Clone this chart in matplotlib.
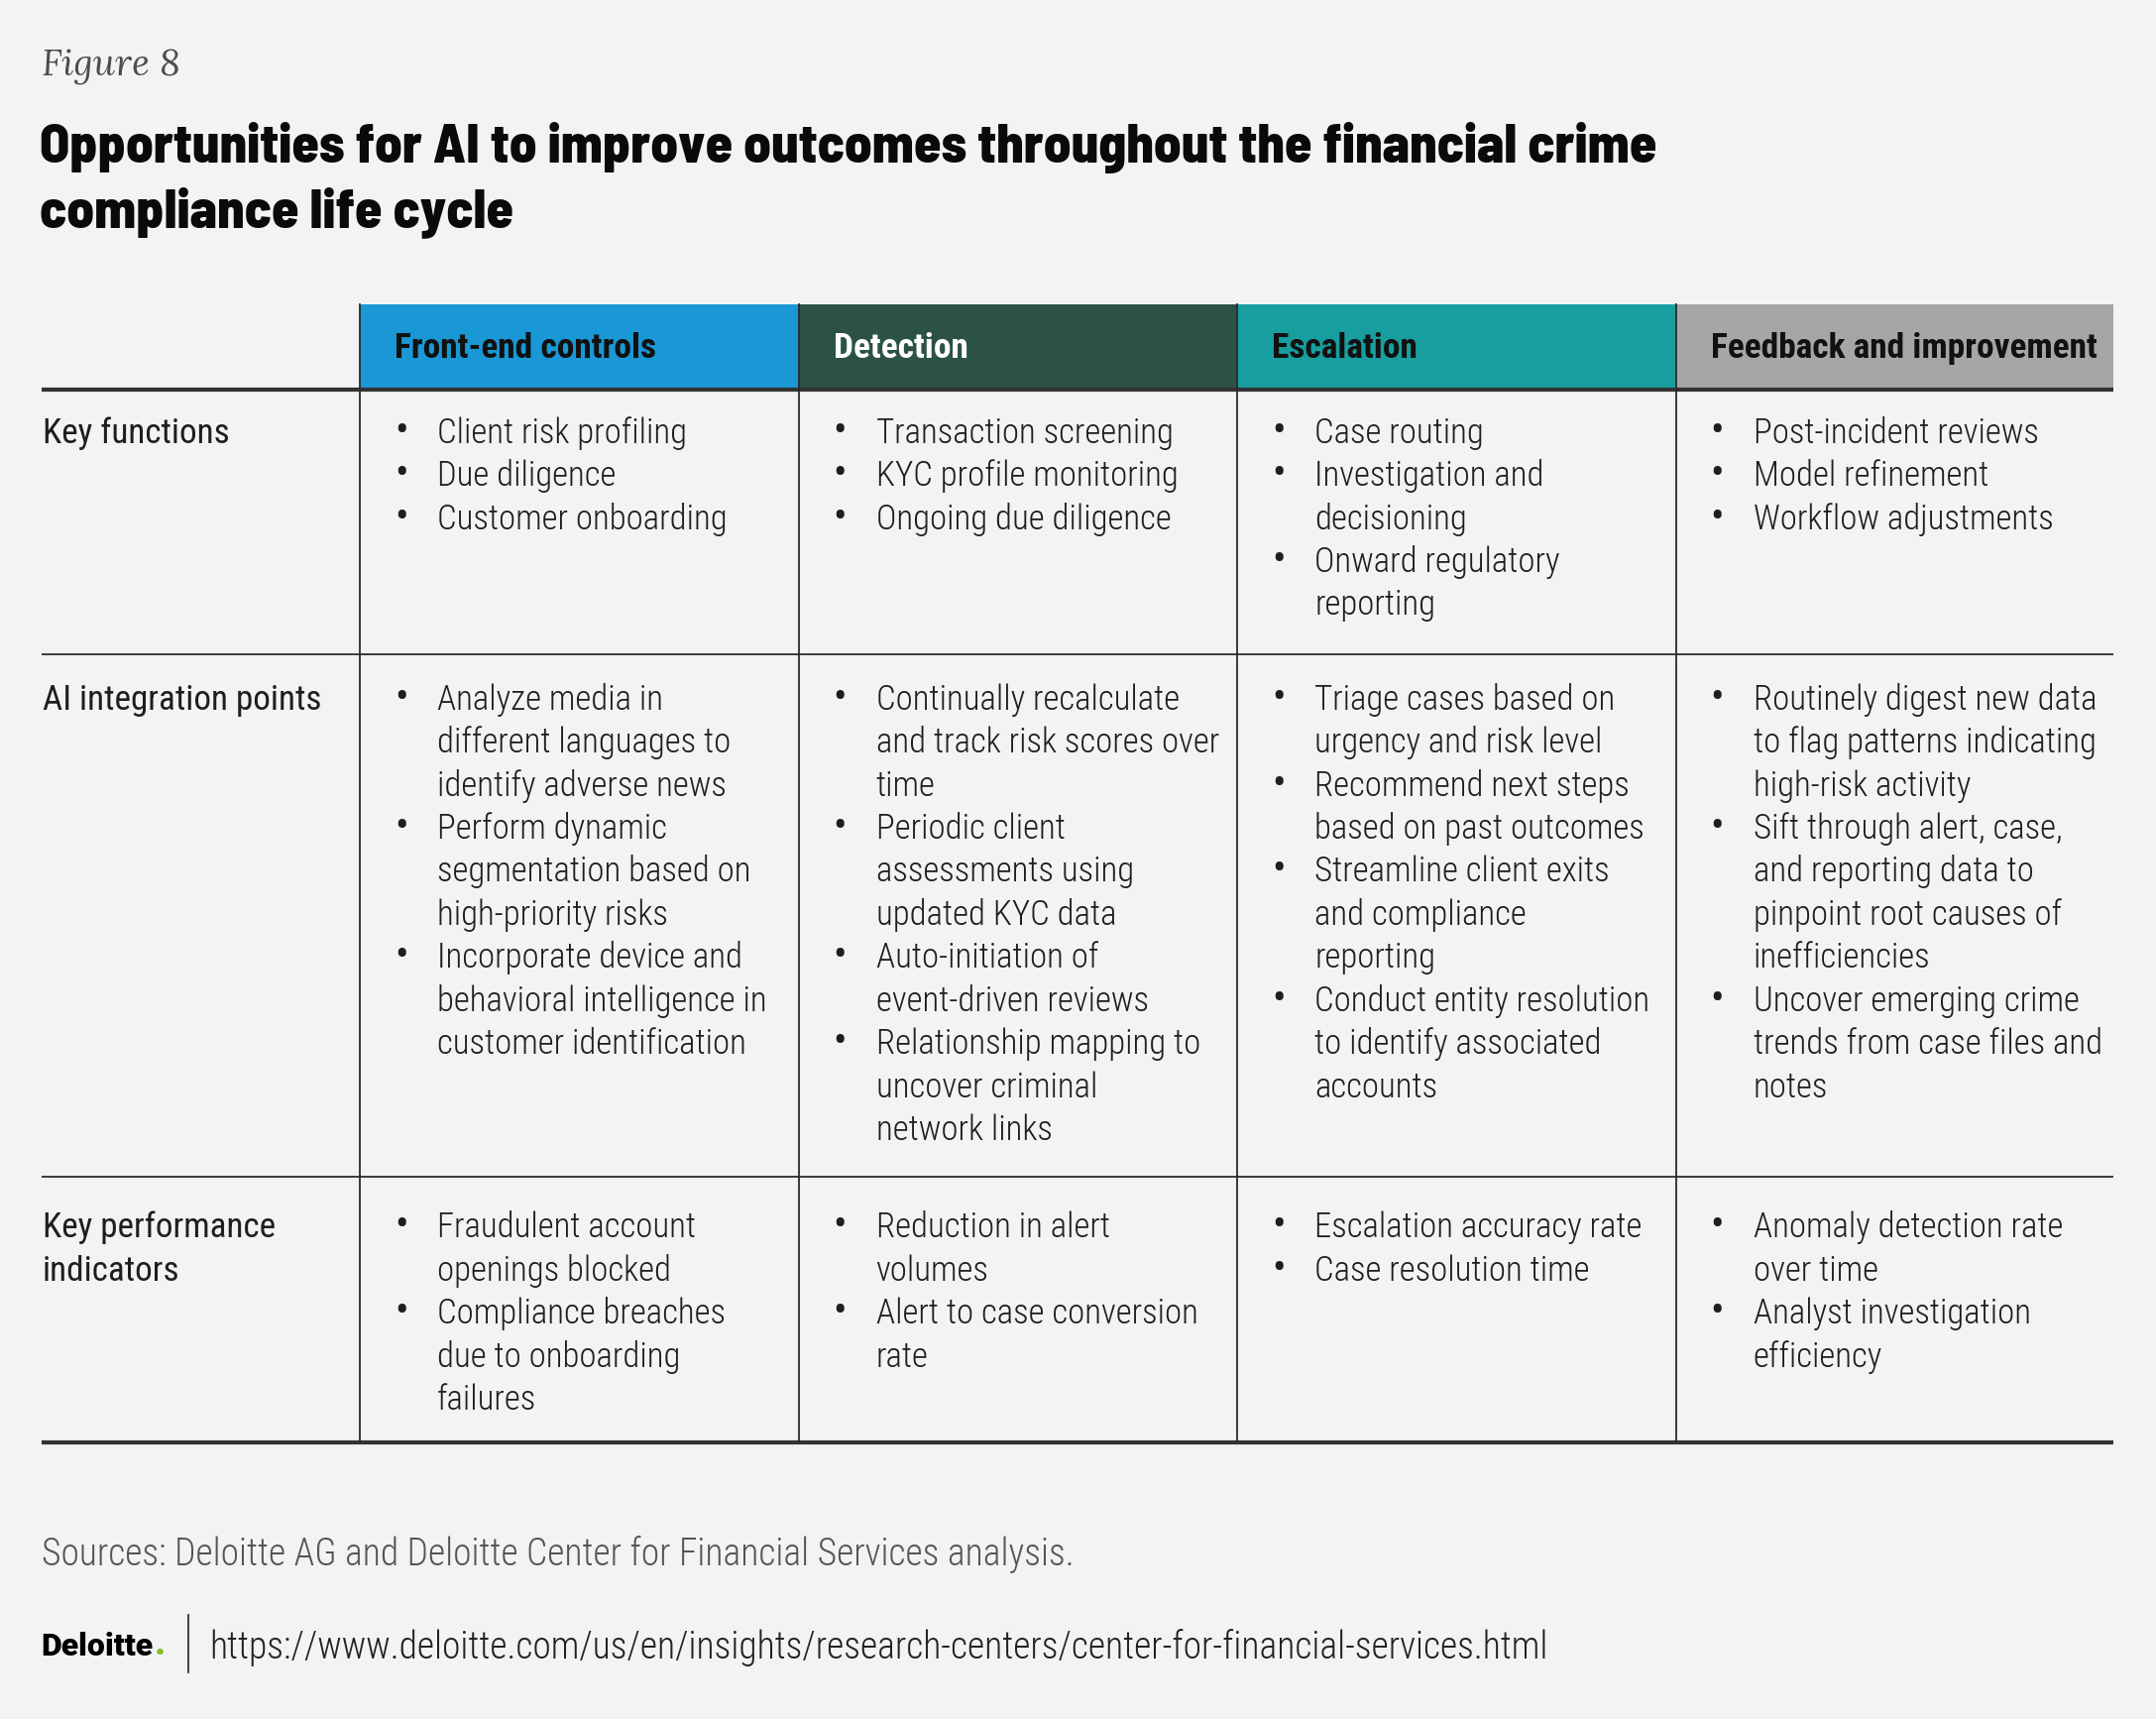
import matplotlib
matplotlib.use("Agg")
import matplotlib.pyplot as plt
from matplotlib.patches import Rectangle

# ---- content -------------------------------------------------------------
fig_label = "Figure 8"
title_lines = [
    "Opportunities for AI to improve outcomes throughout the financial crime",
    "compliance life cycle",
]
stages = ["Front-end controls", "Detection", "Escalation", "Feedback and improvement"]
stage_colors = ["#1a97d5", "#2c5247", "#189e9e", "#a6a6a6"]
stage_text_colors = ["#111111", "#ffffff", "#111111", "#111111"]

row_labels = ["Key functions", "AI integration points", "Key performance\nindicators"]

key_functions = [
    ["Client risk profiling", "Due diligence", "Customer onboarding"],
    ["Transaction screening", "KYC profile monitoring", "Ongoing due diligence"],
    ["Case routing", "Investigation and\ndecisioning", "Onward regulatory\nreporting"],
    ["Post-incident reviews", "Model refinement", "Workflow adjustments"],
]
ai_points = [
    ["Analyze media in\ndifferent languages to\nidentify adverse news",
     "Perform dynamic\nsegmentation based on\nhigh-priority risks",
     "Incorporate device and\nbehavioral intelligence in\ncustomer identification"],
    ["Continually recalculate\nand track risk scores over\ntime",
     "Periodic client\nassessments using\nupdated KYC data",
     "Auto-initiation of\nevent-driven reviews",
     "Relationship mapping to\nuncover criminal\nnetwork links"],
    ["Triage cases based on\nurgency and risk level",
     "Recommend next steps\nbased on past outcomes",
     "Streamline client exits\nand compliance\nreporting",
     "Conduct entity resolution\nto identify associated\naccounts"],
    ["Routinely digest new data\nto flag patterns indicating\nhigh-risk activity",
     "Sift through alert, case,\nand reporting data to\npinpoint root causes of\ninefficiencies",
     "Uncover emerging crime\ntrends from case files and\nnotes"],
]
kpis = [
    ["Fraudulent account\nopenings blocked", "Compliance breaches\ndue to onboarding\nfailures"],
    ["Reduction in alert\nvolumes", "Alert to case conversion\nrate"],
    ["Escalation accuracy rate", "Case resolution time"],
    ["Anomaly detection rate\nover time", "Analyst investigation\nefficiency"],
]
rows = [key_functions, ai_points, kpis]

source_note = "Sources: Deloitte AG and Deloitte Center for Financial Services analysis."
url = "https://www.deloitte.com/us/en/insights/research-centers/center-for-financial-services.html"

# ---- layout (canvas units ~ 1 pt) ---------------------------------------
W, H = 1568, 1250
LEFT, RIGHT = 30, 1537
COL_X = [262, 581, 900, 1219]
HEAD_TOP, HEAD_BOT = 221, 283
ROW_LINES = [476, 856]
BOTTOM = 1049
ROW_BASE = [322, 516, 900]
LH = 31.3

BG = "#f3f3f5"
INK = "#1e1e1e"
BODY = ["Roboto Condensed", "DejaVu Sans"]
TITLE = ["Barlow Semi Condensed", "DejaVu Sans"]
SERIF = ["Lora", "DejaVu Serif"]

fig = plt.figure(figsize=(21.75, 17.34), dpi=100, facecolor=BG)
ax = fig.add_axes([0, 0, 1, 1])
ax.set_xlim(0, W)
ax.set_ylim(H, 0)
ax.axis("off")

# header texts
ax.text(LEFT, 55, fig_label, family=SERIF, style="italic", fontsize=27, color="#4d4d4d", va="baseline")
for i, line in enumerate(title_lines):
    ax.text(LEFT - 1, 118 + i * 47, line, family=TITLE, fontweight=800, fontsize=39.7, color="#0a0a0a",
            va="baseline")

# stage header boxes
col_edges = COL_X + [RIGHT]
for i, stage in enumerate(stages):
    x0, x1 = col_edges[i], col_edges[i + 1]
    ax.add_patch(Rectangle((x0, HEAD_TOP), x1 - x0, HEAD_BOT - HEAD_TOP, facecolor=stage_colors[i],
                           edgecolor="none", zorder=1))
    ax.text(x0 + 25, 260, stage, family=BODY, fontweight="bold", fontsize=25.5,
            color=stage_text_colors[i], va="baseline", zorder=3)

# grid lines
ax.plot([LEFT, RIGHT], [HEAD_BOT, HEAD_BOT], color="#333333", lw=3.0, solid_capstyle="butt", zorder=2)
for y in ROW_LINES:
    ax.plot([LEFT, RIGHT], [y, y], color="#3a3a3a", lw=1.4, solid_capstyle="butt", zorder=2)
ax.plot([LEFT, RIGHT], [BOTTOM, BOTTOM], color="#333333", lw=3.0, solid_capstyle="butt", zorder=2)
for x in COL_X:
    ax.plot([x, x], [HEAD_TOP, BOTTOM], color="#2a2a2a", lw=1.3, zorder=2)

# row labels and bullet cells
for r, label in enumerate(row_labels):
    for k, part in enumerate(label.split("\n")):
        ax.text(LEFT + 1, ROW_BASE[r] + k * LH, part, family=BODY, fontsize=25.3, color=INK, va="baseline")
    for c, items in enumerate(rows[r]):
        y = ROW_BASE[r]
        for item in items:
            ax.text(COL_X[c] + 30, y, "\u2022", family=BODY, fontsize=29, color=INK, ha="center",
                    va="baseline")
            for part in item.split("\n"):
                ax.text(COL_X[c] + 56, y, part, family=BODY, fontweight=300, fontsize=25, color=INK,
                        va="baseline")
                y += LH

# footer
ax.text(LEFT, 1138.5, source_note, family=BODY, fontweight=300, fontsize=27, color="#555555",
        va="baseline")
logo = ax.text(LEFT, 1204, "Deloitte", family=["Roboto", "DejaVu Sans"], fontweight=900, fontsize=23,
               color="#000000", va="baseline")
ax.annotate(".", xy=(1, 0), xycoords=logo, xytext=(0.5, 5), textcoords="offset points",
            family=["Roboto", "DejaVu Sans"], fontweight=900, fontsize=27, color="#86bc25",
            va="baseline", ha="left")
ax.plot([137, 137], [1174, 1216], color="#222222", lw=1.2)
ax.text(152, 1206, url, family=BODY, fontweight=300, fontsize=27, color="#222222", va="baseline")

fig.savefig("out.png", dpi=100, facecolor=BG)
